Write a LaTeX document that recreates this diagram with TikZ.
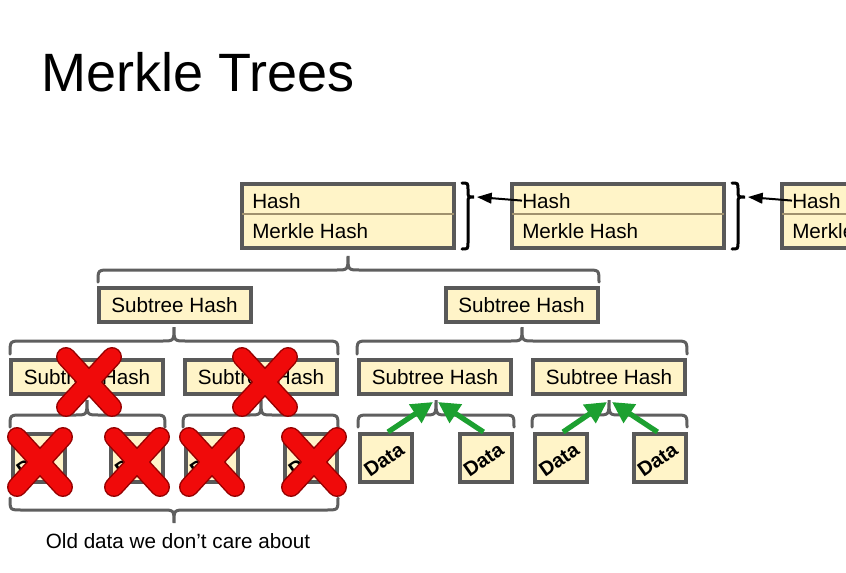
\documentclass[tikz,border=0pt]{standalone}
\usepackage{fontspec}
\setmainfont{Liberation Sans}
\usetikzlibrary{arrows.meta,calc}
\definecolor{cream}{RGB}{255,244,200}
\definecolor{boxgray}{RGB}{89,89,89}
\definecolor{bracegray}{RGB}{95,95,95}
\definecolor{divline}{RGB}{160,145,110}
\definecolor{xred}{RGB}{240,10,10}
\definecolor{xdark}{RGB}{150,0,0}
\definecolor{agreen}{RGB}{28,160,48}
% horizontal brace: x1, x2, yend, yhoriz, xtip, ytip
\newcommand\hbr[6]{\draw[brc] (#1,#3) .. controls (#1,#4) .. ({#1+12},#4) -- ({#5-12},#4) .. controls (#5,#4) .. (#5,#6) .. controls (#5,#4) .. ({#5+12},#4) -- ({#2-12},#4) .. controls (#2,#4) .. (#2,#3);}
% vertical brace: xend, xvert, xtip, y1, y2, ytip
\newcommand\vbr[6]{\draw[vbrc] (#1,#4) .. controls (#2,#4) .. (#2,{#4+7}) -- (#2,{#6-6}) .. controls (#2,#6) .. (#3,#6) .. controls (#2,#6) .. (#2,{#6+6}) -- (#2,{#5-7}) .. controls (#2,#5) .. (#1,#5);}
% red cross
\newcommand\redx[2]{%
\draw[xdark, line width=15pt, line cap=round] ({#1-23},{#2-25}) -- ({#1+23},{#2+25}) ({#1+23},{#2-25}) -- ({#1-23},{#2+25});
\draw[xred, line width=12.8pt, line cap=round] ({#1-23},{#2-25}) -- ({#1+23},{#2+25}) ({#1+23},{#2-25}) -- ({#1-23},{#2+25});}
\begin{document}
\begin{tikzpicture}[x=0.75pt,y=-0.75pt,
  tblock/.style={draw=boxgray, line width=3pt, fill=cream, minimum width=159pt, minimum height=48pt, inner sep=0pt},
  sbox/.style={draw=boxgray, line width=3pt, fill=cream, minimum width=114pt, minimum height=25.5pt, inner sep=0pt, font=\fontsize{15.5}{18}\selectfont},
  dbox/.style={draw=boxgray, line width=3pt, fill=cream, minimum width=39pt, minimum height=36pt, inner sep=0pt},
  dtext/.style={font=\bfseries\fontsize{15}{17}\selectfont, rotate=35, inner sep=0pt},
  ltext/.style={font=\fontsize{15.5}{18}\selectfont, inner sep=0pt, anchor=base west},
  brc/.style={draw=bracegray, line width=2.25pt, line cap=round},
  vbrc/.style={draw=black, line width=2.25pt, line cap=round},
  harrow/.style={draw=black, line width=1.5pt, -{Triangle[length=11pt,width=8pt]}},
  garrow/.style={draw=agreen, line width=3.9pt, -{Triangle[length=16pt,width=16pt]}},
  divider/.style={draw=divline, line width=1pt, shorten <=1.5pt, shorten >=1.5pt}]
\clip (0,0) rectangle (846,572);
\fill[white] (0,0) rectangle (846,572);
% title
\node[anchor=base west, inner sep=0pt, font=\fontsize{40.5}{48}\selectfont] (title) at (41,91) {Merkle Trees};
% top blocks
\node[tblock] (b1) at (348,215.5) {};
\node[tblock] (b2) at (617.5,215.5) {};
\node[tblock] (b3) at (888,215.5) {};
\foreach \b in {b1,b2,b3}{\draw[divider] ($(\b.west)+(0,-1.5)$) -- ($(\b.east)+(0,-1.5)$);}
\node[ltext] (h1) at (252,208) {Hash};
\node[ltext] (m1) at (252,238) {Merkle Hash};
\node[ltext] (h2) at (522,208) {Hash};
\node[ltext] (m2) at (522,238) {Merkle Hash};
\node[ltext] (h3) at (792,208) {Hash};
\node[ltext] (m3) at (792,238) {Merkle Hash};
% braces right of blocks
\vbr{462}{468}{474}{183}{249}{197}
\vbr{732}{738}{745}{183}{249}{197}
\coordinate (t1) at (477,197);
\coordinate (t2) at (748,197);
\draw[harrow] (h2.west) -- (t1);
\draw[harrow] (h3.west) -- (t2);
% level 1 subtrees
\node[sbox] (s1) at (174.5,305) {Subtree Hash};
\node[sbox] (s2) at (521.5,305) {Subtree Hash};
% level 2 subtrees
\node[sbox] (s5) at (87,377) {Subtree Hash};
\node[sbox] (s6) at (261,377) {Subtree Hash};
\node[sbox] (s3) at (435,377) {Subtree Hash};
\node[sbox] (s4) at (609,377) {Subtree Hash};
% data boxes
\node[dbox] (d1) at (38.5,458) {};
\node[dbox] (d2) at (137,458) {};
\node[dbox] (d3) at (212,458) {};
\node[dbox] (d4) at (310.5,458) {};
\node[dbox] (d5) at (386,458) {};
\node[dbox] (d6) at (485.5,458) {};
\node[dbox] (d7) at (561,458) {};
\node[dbox] (d8) at (659.5,458) {};
\foreach \d in {1,...,8}{\node[dtext] (dt\d) at ($(d\d)+(-2,2)$) {Data};}
% braces
\hbr{98}{599}{282}{270}{348}{256}
\hbr{10}{338}{354}{341}{174}{327}
\hbr{357}{687}{354}{341}{522}{327}
\hbr{10}{165}{427}{415}{87}{400}
\hbr{183}{338}{427}{415}{261}{400}
\hbr{358}{514}{427}{415}{436}{400}
\hbr{532}{687}{427}{415}{609}{400}
\hbr{10}{338}{498}{510}{174}{523}
% green arrows
\draw[garrow] ($(d5.north)+(2,0)$) -- ($(s3.south)+(-2,6)$);
\draw[garrow] ($(d6.north)+(-2,0)$) -- ($(s3.south)+(3,6)$);
\draw[garrow] ($(d7.north)+(2,0)$) -- ($(s4.south)+(-2,6)$);
\draw[garrow] ($(d8.north)+(-2,0)$) -- ($(s4.south)+(3,6)$);
% bottom label
\node[anchor=base, inner sep=0pt, font=\fontsize{15.5}{18}\selectfont] (old) at (178,548) {Old data we don’t care about};
% red crosses
\redx{89}{382}
\redx{265}{382}
\redx{40}{462}
\redx{137}{462}
\redx{212}{462}
\redx{314}{462}
\end{tikzpicture}
\end{document}
